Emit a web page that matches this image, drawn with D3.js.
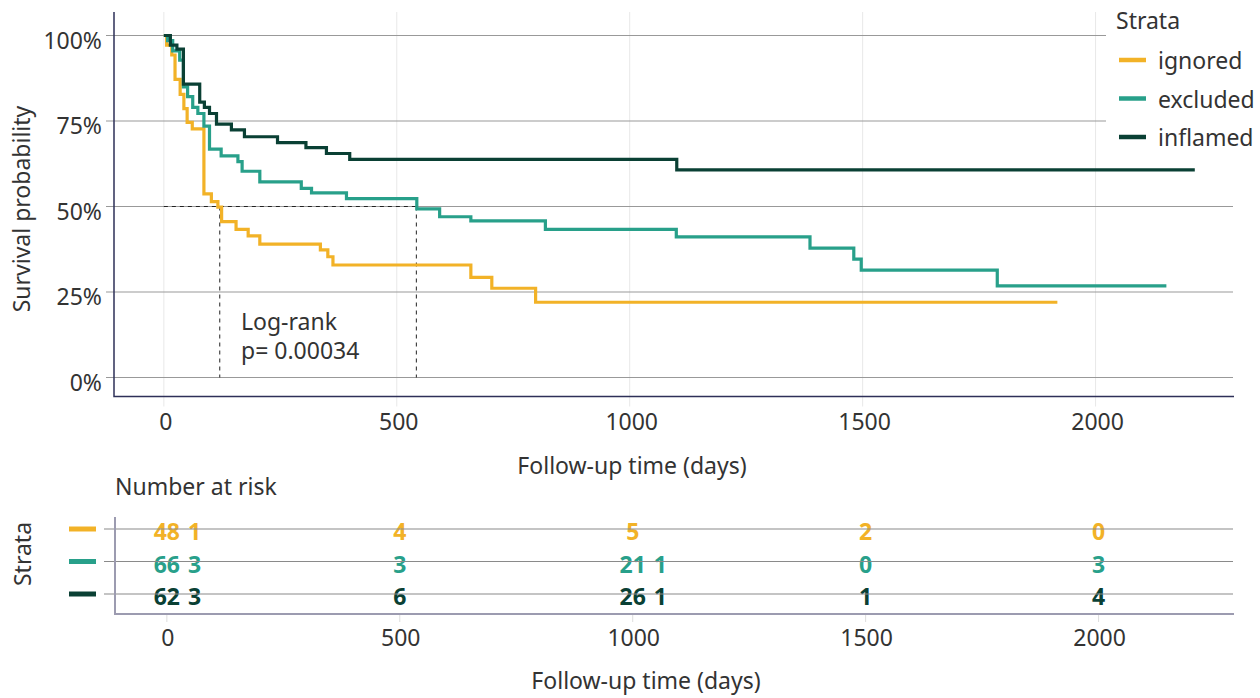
<!DOCTYPE html>
<html>
<head>
<meta charset="utf-8">
<script src="https://cdn.jsdelivr.net/npm/d3@7"></script>
<style>
  html, body { margin: 0; padding: 0; background: #fff; }
  svg { display: block; font-family: "Noto Sans", sans-serif; }
</style>
</head>
<body>
<svg id="chart" width="1260" height="698"></svg>
<script>
// strata and survival steps
const strata = ['ignored', 'excluded', 'inflamed']

const ignoredTime = [0, 6, 17, 24, 35, 43, 50, 61, 86, 102, 116, 124, 155, 181, 206, 336, 352, 363, 659, 704, 798, 1918]
const ignoredSurv = [1, 0.972, 0.943, 0.872, 0.828, 0.786, 0.746, 0.727, 0.537, 0.514, 0.498, 0.456, 0.433, 0.414, 0.390, 0.373, 0.353, 0.329, 0.293, 0.261, 0.220, 0.220]

const excludedTime = [0, 8, 19, 34, 42, 51, 62, 73, 86, 98, 123, 159, 168, 206, 295, 317, 392, 543, 592, 659, 819, 1100, 1387, 1481, 1497, 1789, 2152]
const excludedSurv = [1, 0.985, 0.955, 0.928, 0.85, 0.821, 0.79, 0.772, 0.735, 0.668, 0.648, 0.631, 0.603, 0.572, 0.553, 0.540, 0.523, 0.493, 0.470, 0.458, 0.433, 0.411, 0.378, 0.346, 0.314, 0.268, 0.268]

const inflamedTime = [0, 14, 28, 42, 77, 87, 98, 113, 145, 173, 244, 305, 349, 399, 1101, 2213]
const inflamedSurv = [1, 0.972, 0.960, 0.858, 0.805, 0.790, 0.772, 0.741, 0.724, 0.704, 0.687, 0.672, 0.655, 0.638, 0.607, 0.607]

// median survival (ignored, excluded)
const medianTimes = [120, 542]

const xTicks = [0, 500, 1000, 1500, 2000]
const yTicks = [0, 0.25, 0.5, 0.75, 1]

// number at risk table
const riskIgnored = ['48 1', '4', '5', '2', '0']
const riskExcluded = ['66 3', '3', '21 1', '0', '3']
const riskInflamed = ['62 3', '6', '26 1', '1', '4']

const pValueLines = ['Log-rank', 'p= 0.00034']

const colors = ['#f2b227', '#28a08a', '#0a4034']
const textColor = '#333333'
const fontSize = 23

const series = [
  { name: strata[0], time: ignoredTime, surv: ignoredSurv, risk: riskIgnored },
  { name: strata[1], time: excludedTime, surv: excludedSurv, risk: riskExcluded },
  { name: strata[2], time: inflamedTime, surv: inflamedSurv, risk: riskInflamed },
]

const svg = d3.select('#chart')
const color = d3.scaleOrdinal(strata, colors)

const x = d3.scaleLinear([-107, 2295], [114, 1233])
const y = d3.scaleLinear([0, 1], [377.5, 35.5])
const panelTop = 12, panelBottom = 396.5

// vertical light grid
svg.append('g')
  .selectAll('line')
  .data(xTicks)
  .join('line')
  .attr('x1', d => x(d)).attr('x2', d => x(d))
  .attr('y1', panelTop).attr('y2', panelBottom + 10)
  .attr('stroke', '#e8e8e8').attr('stroke-width', 1)

// horizontal grid
svg.append('g')
  .selectAll('line')
  .data(yTicks)
  .join('line')
  .attr('x1', 106).attr('x2', 1233)
  .attr('y1', d => y(d)).attr('y2', d => y(d))
  .attr('stroke', '#999').attr('stroke-width', 1.2)

// axis lines
svg.append('path')
  .attr('d', `M114,${panelTop}V${panelBottom}H1234`)
  .attr('fill', 'none').attr('stroke', '#2e3058').attr('stroke-width', 1.5)

// y tick labels
svg.append('g')
  .selectAll('text')
  .data(yTicks)
  .join('text')
  .attr('x', 102).attr('y', d => y(d) + 4)
  .attr('text-anchor', 'end').attr('dominant-baseline', 'central')
  .attr('font-size', fontSize).attr('fill', textColor)
  .text(d3.format('.0%'))

// x tick labels
svg.append('g')
  .selectAll('text')
  .data(xTicks)
  .join('text')
  .attr('x', d => x(d) + 2).attr('y', 421)
  .attr('text-anchor', 'middle').attr('dominant-baseline', 'central')
  .attr('font-size', fontSize).attr('fill', textColor)
  .text(d => d)

// axis titles
svg.append('text')
  .attr('transform', 'translate(21,209) rotate(-90)')
  .attr('text-anchor', 'middle').attr('dominant-baseline', 'central')
  .attr('font-size', fontSize).attr('fill', textColor)
  .text('Survival probability')

svg.append('text')
  .attr('x', 632).attr('y', 465)
  .attr('text-anchor', 'middle').attr('dominant-baseline', 'central')
  .attr('font-size', fontSize).attr('fill', textColor)
  .text('Follow-up time (days)')

// median lines
const medianG = svg.append('g')
  .attr('stroke', '#222').attr('stroke-width', 1).attr('stroke-dasharray', '4,4').attr('fill', 'none')
medianG.append('line')
  .attr('x1', x(0)).attr('x2', x(d3.max(medianTimes)))
  .attr('y1', y(0.5)).attr('y2', y(0.5))
medianG.selectAll('.vmed')
  .data(medianTimes)
  .join('line')
  .attr('class', 'vmed')
  .attr('x1', d => x(d)).attr('x2', d => x(d))
  .attr('y1', y(0.5)).attr('y2', y(0))

// survival curves
const line = d3.line()
  .x(d => x(d[0]))
  .y(d => y(d[1]))
  .curve(d3.curveStepAfter)

svg.append('g')
  .selectAll('path')
  .data(series)
  .join('path')
  .attr('d', s => line(s.time.map((t, i) => [t, s.surv[i]])))
  .attr('fill', 'none')
  .attr('stroke', s => color(s.name))
  .attr('stroke-width', 3.2)

// log-rank annotation
svg.append('g')
  .selectAll('text')
  .data(pValueLines)
  .join('text')
  .attr('x', 241).attr('y', (d, i) => 321 + i * 29)
  .attr('dominant-baseline', 'central')
  .attr('font-size', fontSize).attr('fill', textColor)
  .text(d => d)

// legend
const legend = svg.append('g')
legend.append('rect')
  .attr('x', 1106).attr('y', 0).attr('width', 154).attr('height', 152)
  .attr('fill', '#fff')
legend.append('text')
  .attr('x', 1116).attr('y', 20)
  .attr('dominant-baseline', 'central')
  .attr('font-size', fontSize).attr('fill', textColor)
  .text('Strata')
const legendY = d3.scalePoint(strata, [60, 137])
legend.selectAll('line')
  .data(strata)
  .join('line')
  .attr('x1', 1119).attr('x2', 1146)
  .attr('y1', d => legendY(d)).attr('y2', d => legendY(d))
  .attr('stroke', d => color(d)).attr('stroke-width', 4.5)
legend.selectAll('text.lab')
  .data(strata)
  .join('text')
  .attr('class', 'lab')
  .attr('x', 1158).attr('y', d => legendY(d))
  .attr('dominant-baseline', 'central')
  .attr('font-size', fontSize).attr('fill', textColor)
  .text(d => d)

// ---- risk table ----
const rowY = d3.scalePoint(strata, [529, 594])
const tableTop = 517, tableBottom = 614

svg.append('text')
  .attr('x', 115).attr('y', 486)
  .attr('dominant-baseline', 'central')
  .attr('font-size', fontSize).attr('fill', textColor)
  .text('Number at risk')

svg.append('text')
  .attr('transform', 'translate(22,554) rotate(-90)')
  .attr('text-anchor', 'middle').attr('dominant-baseline', 'central')
  .attr('font-size', fontSize).attr('fill', textColor)
  .text('Strata')

// x ticks below table
svg.append('g')
  .selectAll('line')
  .data(xTicks)
  .join('line')
  .attr('x1', d => x(d) + 3).attr('x2', d => x(d) + 3)
  .attr('y1', tableBottom).attr('y2', tableBottom + 8)
  .attr('stroke', '#ddd')

// numbers
const cells = series.flatMap(s => s.risk.map((v, i) => ({ name: s.name, t: xTicks[i], parts: v.split(' ') })))
const cellG = svg.append('g')
  .selectAll('g')
  .data(cells)
  .join('g')
  .attr('font-size', fontSize).attr('font-weight', 'bold')
  .attr('fill', d => color(d.name))
cellG.append('text')
  .attr('class', 'main')
  .attr('x', d => x(d.t) + 3).attr('y', d => rowY(d.name) + 2)
  .attr('text-anchor', 'middle').attr('dominant-baseline', 'central')
  .text(d => d.parts[0])
cellG.each(function(d) {
  if (d.parts.length < 2) return
  const g = d3.select(this)
  const w = g.select('text.main').node().getComputedTextLength()
  g.append('text')
    .attr('x', x(d.t) + 3 + w / 2 + 8).attr('y', rowY(d.name) + 2)
    .attr('dominant-baseline', 'central')
    .text(d.parts.slice(1).join(' '))
})

// row lines across the text
svg.append('g')
  .selectAll('line')
  .data(strata)
  .join('line')
  .attr('x1', 104).attr('x2', 1233)
  .attr('y1', d => rowY(d)).attr('y2', d => rowY(d))
  .attr('stroke', '#8a8a8a').attr('stroke-width', 1.2)

svg.append('path')
  .attr('d', `M115,${tableTop}V${tableBottom}H1234`)
  .attr('fill', 'none').attr('stroke', '#9c9bb0').attr('stroke-width', 2)

// row keys
svg.append('g')
  .selectAll('line')
  .data(strata)
  .join('line')
  .attr('x1', 69).attr('x2', 96)
  .attr('y1', d => rowY(d)).attr('y2', d => rowY(d))
  .attr('stroke', d => color(d)).attr('stroke-width', 5)

svg.append('g')
  .selectAll('text')
  .data(xTicks)
  .join('text')
  .attr('x', d => x(d) + 4).attr('y', 637)
  .attr('text-anchor', 'middle').attr('dominant-baseline', 'central')
  .attr('font-size', fontSize).attr('fill', textColor)
  .text(d => d)

svg.append('text')
  .attr('x', 646).attr('y', 680)
  .attr('text-anchor', 'middle').attr('dominant-baseline', 'central')
  .attr('font-size', fontSize).attr('fill', textColor)
  .text('Follow-up time (days)')
</script>
</body>
</html>
